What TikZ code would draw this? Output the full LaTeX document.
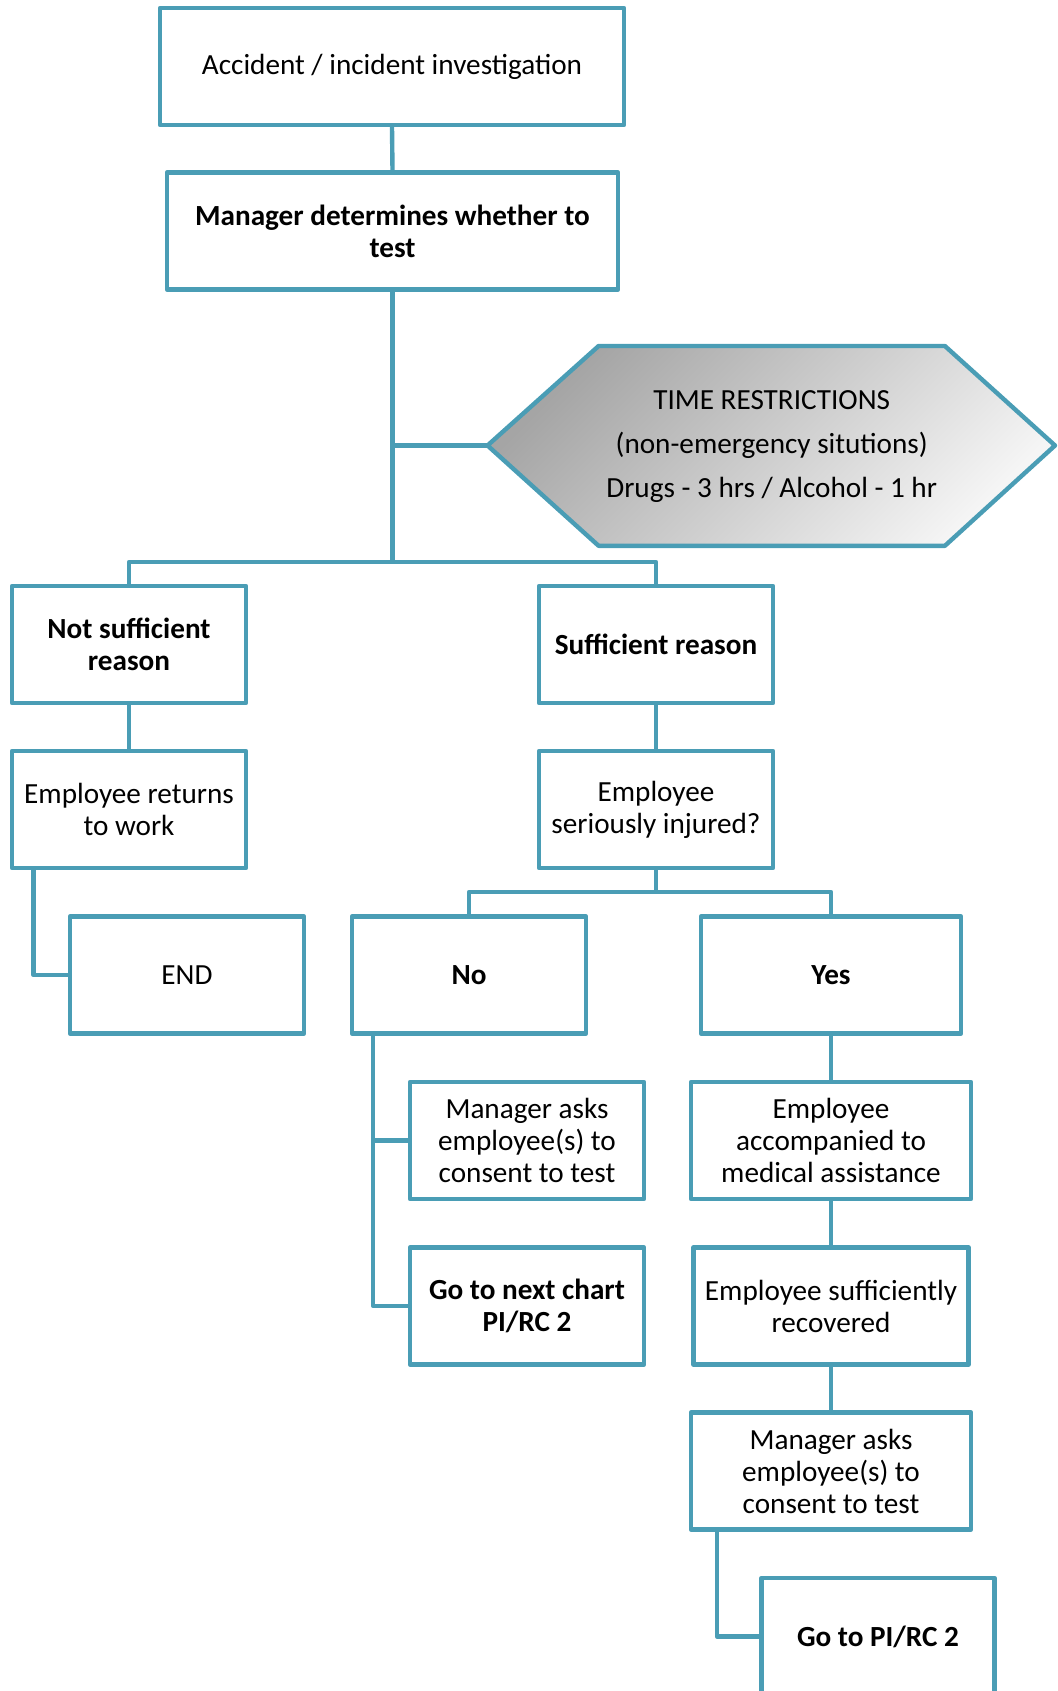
\documentclass[tikz,border=0pt]{standalone}
\usepackage{fontspec}
\setmainfont{Carlito}
\definecolor{edge}{RGB}{74,157,181}
\definecolor{hexdark}{RGB}{165,165,165}
\definecolor{hexlight}{RGB}{245,245,245}
\begin{document}
\begin{tikzpicture}[x=0.5pt,y=-0.5pt,
  box/.style={draw=edge, line width=2.2pt, line join=round, fill=white,
    align=center, inner sep=0pt, minimum width=117pt, minimum height=58.5pt,
    font=\fontsize{14.6}{16}\selectfont},
  bbox/.style={box, font=\fontsize{14.6}{16}\selectfont\bfseries},
  wire/.style={draw=edge, line width=2.2pt, line join=round}
]
\useasboundingbox (0,0) rectangle (1057,1691);
\clip (0,0) rectangle (1057,1691);

% top of the chart
\node[box, minimum width=232pt] (acc) at (392,66.5) {Accident / incident investigation};
\node[bbox, minimum width=225.5pt] (mgr) at (392.5,231) {Manager determines whether to\\test};

% time restrictions panel
\coordinate (hexL) at (487.5,445.5);
\path[draw=edge, line width=2.2pt, line join=round, top color=hexdark,
  bottom color=hexlight, shading angle=45]
  (hexL) -- (598.6,346) -- (944.9,346) -- (1055,445.5) -- (944.9,545.8)
  -- (598.6,545.8) -- cycle;
\node[align=center, font=\fontsize{14.6}{22}\selectfont] (hex) at (771.7,447)
  {TIME RESTRICTIONS\\(non-emergency situtions)\\Drugs - 3 hrs / Alcohol - 1 hr};

% first decision level
\node[bbox] (nsr) at (129,644.5) {Not sufficient\\reason};
\node[bbox] (sr) at (656,644.5) {Sufficient reason};
\node[box] (erw) at (129,809.5) {Employee returns\\to work};
\node[box] (esi) at (656,809.5) {Employee\\seriously injured?};
\node[box] (end) at (187,975) {END};

% injury branches
\node[bbox] (no) at (469,975) {No};
\node[bbox, minimum width=130pt] (yes) at (831,975) {Yes};
\node[box] (ma1) at (527,1140.5) {Manager asks\\employee(s) to\\consent to test};
\node[bbox] (gnc) at (527,1306) {Go to next chart\\PI/RC 2};
\node[box, minimum width=140pt] (eam) at (831,1140.5) {Employee\\accompanied to\\medical assistance};
\node[box, minimum width=137.5pt] (esr) at (831,1306) {Employee sufficiently\\recovered};
\node[box, minimum width=140pt] (ma2) at (831,1471) {Manager asks\\employee(s) to\\consent to test};
\node[bbox, minimum width=116.5pt] (gpi) at (878,1636.5) {Go to PI/RC 2};

% connectors
\coordinate (j1) at (392.5,562);
\coordinate (j2) at (656,892);
\path[wire] (acc.south) -- (mgr.north);
\path[wire] (mgr.south) -- (j1);
\path[wire] (mgr.south |- hexL) -- (hexL);
\path[wire] (nsr.north) |- (j1) -| (sr.north);
\path[wire] (nsr.south) -- (erw.north);
\path[wire] (sr.south) -- (esi.north);
\path[wire] ([xshift=11.8pt]erw.south west) |- (end.west);
\path[wire] (esi.south) -- (j2);
\path[wire] (no.north) |- (j2) -| (yes.north);
\path[wire] ([xshift=11.7pt]no.south west) |- (ma1.west);
\path[wire] ([xshift=11.7pt]no.south west) |- (gnc.west);
\path[wire] (yes.south) -- (eam.north);
\path[wire] (eam.south) -- (esr.north);
\path[wire] (esr.south) -- (ma2.north);
\path[wire] ([xshift=14pt]ma2.south west) |- (gpi.west);
\end{tikzpicture}
\end{document}
